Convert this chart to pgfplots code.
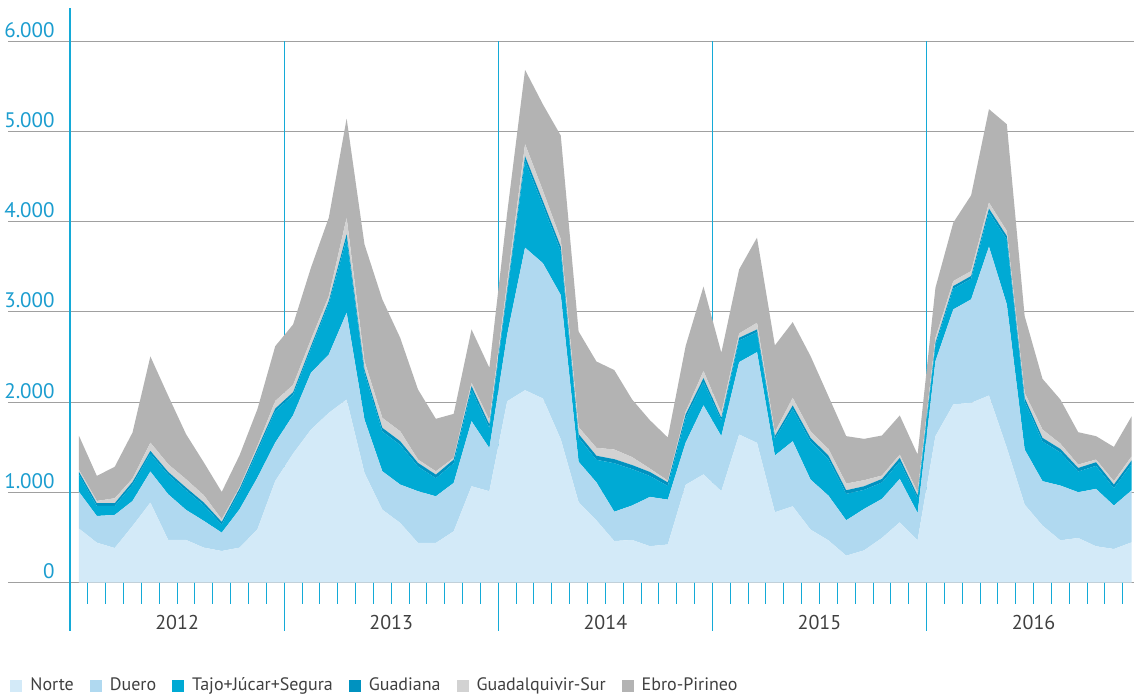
\documentclass[border=0pt]{standalone}
\usepackage{pgfplots}
\pgfplotsset{compat=1.18}
\usepackage{pgfplotstable}
\usepackage{fontspec}
\setmainfont{PT Sans}
\definecolor{cNorte}{RGB}{211,234,248}
\definecolor{cDuero}{RGB}{176,217,240}
\definecolor{cTajo}{RGB}{0,170,212}
\definecolor{cGuadiana}{RGB}{0,146,192}
\definecolor{cGuadalq}{RGB}{210,210,210}
\definecolor{cEbro}{RGB}{179,179,179}
\definecolor{gridgray}{RGB}{160,160,160}
\definecolor{tickblue}{RGB}{27,157,207}
\definecolor{lineblue}{RGB}{20,170,215}
\definecolor{textgray}{RGB}{64,64,64}

\pgfplotstableread{
i N Du Ta Gu Gq Eb
0 599 406 192 30 23 376
1 443 296 111 30 25 278
2 384 366 100 30 55 348
3 628 277 181 30 37 510
4 887 344 199 30 92 954
5 473 506 218 30 85 758
6 473 333 217 30 93 499
7 388 296 173 30 81 363
8 351 203 89 30 29 303
9 388 425 199 30 18 352
10 591 573 292 30 29 407
11 1127 425 347 30 85 606
12 1430 425 225 30 80 670
13 1696 629 265 30 74 795
14 1881 647 561 30 56 868
15 2029 961 819 50 184 1098
16 1216 591 515 40 92 1294
17 809 425 441 40 111 1312
18 662 425 440 40 111 1035
19 440 573 274 40 37 776
20 440 517 200 40 37 581
21 569 536 219 40 18 488
22 1068 721 348 40 37 591
23 1013 477 222 40 48 580
24 2010 740 460 40 80 770
25 2132 1579 963 50 134 822
26 2040 1499 638 50 115 956
27 1589 1598 485 50 84 1147
28 893 447 266 40 77 1060
29 690 421 250 45 88 956
30 461 325 537 45 107 880
31 473 382 403 45 88 638
32 404 546 231 45 38 535
33 423 497 151 40 19 478
34 1084 467 273 40 31 726
35 1200 765 260 40 80 935
36 1013 610 173 30 55 666
37 1641 802 240 30 48 710
38 1549 1005 221 30 74 943
39 780 628 185 30 44 961
40 846 721 356 40 85 838
41 588 554 422 40 74 832
42 469 496 403 40 74 584
43 299 392 293 40 74 525
44 358 459 211 40 67 458
45 495 433 181 40 37 444
46 669 480 193 40 37 433
47 469 303 163 30 37 417
48 1623 831 173 30 56 554
49 1974 1053 229 30 55 647
50 1992 1146 229 30 55 839
51 2073 1649 381 40 67 1035
52 1493 1589 718 40 56 1182
53 865 610 533 40 55 850
54 632 492 440 40 92 562
55 469 607 366 40 59 488
56 495 507 229 40 37 359
57 403 636 255 40 30 259
58 373 481 193 40 37 380
59 447 577 292 40 45 443
}\data

\begin{document}
\begin{tikzpicture}
\begin{axis}[
  width=563pt, height=311.5pt, scale only axis,
  xmin=-3.98, xmax=59.1, ymin=-532, ymax=6366,
  clip=false,
  axis line style={draw=none},
  ytick={0,1000,2000,3000,4000,5000,6000},
  ymajorgrids=true, xmajorgrids=false,
  major grid style={color=gridgray, line width=0.5pt},
  major tick length=0pt,
  yticklabel style={anchor=base east, inner sep=0pt, xshift=23.5pt, yshift=2pt,
    text=tickblue, font=\fontsize{10.5}{12}\selectfont},
  /pgf/number format/1000 sep={.},
  /pgf/number format/assume math mode=true,
  xtick={5.5,17.5,29.5,41.5,53.5},
  xticklabels={2012,2013,2014,2015,2016},
  xticklabel style={anchor=base, inner sep=0pt, yshift=0.5pt, text=textgray,
    font=\fontsize{10}{12}\selectfont},
  stack plots=y,
  legend columns=6,
  legend image code/.code={\fill[#1] (0pt,-3pt) rectangle (6pt,3pt);},
  legend style={draw=none, fill=none, at={(rel axis cs:0.0018,-0.0883)}, anchor=west,
    inner sep=0pt, nodes={inner sep=0pt, text=textgray, font=\fontsize{9}{11}\selectfont},
    /tikz/every odd column/.append style={column sep=4pt},
    /tikz/every even column/.append style={column sep=8pt}},
]
\addplot[fill=cNorte, draw=none] table[x=i,y=N]{\data} \closedcycle;
\addplot[fill=cDuero, draw=none] table[x=i,y=Du]{\data} \closedcycle;
\addplot[fill=cTajo, draw=none] table[x=i,y=Ta]{\data} \closedcycle;
\addplot[fill=cGuadiana, draw=none] table[x=i,y=Gu]{\data} \closedcycle;
\addplot[fill=cGuadalq, draw=none] table[x=i,y=Gq]{\data} \closedcycle;
\addplot[fill=cEbro, draw=none] table[x=i,y=Eb]{\data} \closedcycle;
\legend{Norte,Duero,Tajo+Júcar+Segura,Guadiana,Guadalquivir-Sur,Ebro-Pirineo}
\pgfplotsinvokeforeach{0,...,58}{\draw[lineblue, line width=0.5pt] (axis cs:#1.5,122) -- (axis cs:#1.5,-233);}
\draw[lineblue, line width=0.6pt] (axis cs:-0.5,-532) -- (axis cs:-0.5,6366);
\draw[lineblue, line width=0.6pt] (axis cs:11.5,-532) -- (axis cs:11.5,6000);
\draw[lineblue, line width=0.6pt] (axis cs:23.5,-532) -- (axis cs:23.5,6000);
\draw[lineblue, line width=0.6pt] (axis cs:35.5,-532) -- (axis cs:35.5,6000);
\draw[lineblue, line width=0.6pt] (axis cs:47.5,-532) -- (axis cs:47.5,6000);
\path (rel axis cs:-0.0071,-0.1091) rectangle (rel axis cs:1,1.0128);
\end{axis}
\end{tikzpicture}
\end{document}
